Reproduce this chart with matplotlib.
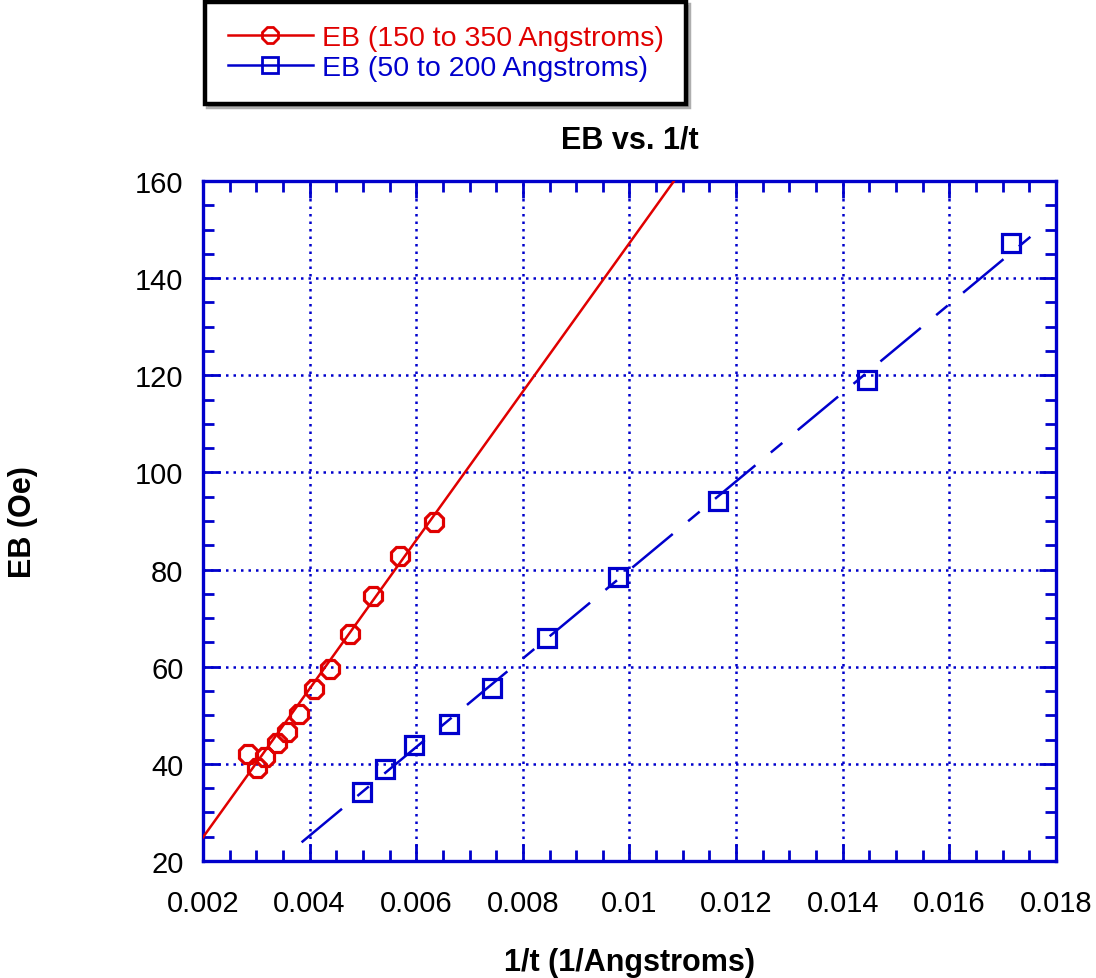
import numpy as np
import matplotlib.pyplot as plt
from matplotlib.ticker import MultipleLocator

plt.rcParams['font.family'] = ['Liberation Sans', 'DejaVu Sans']

# data
t_inv_thick = [0.00284, 0.00301, 0.00316, 0.00339, 0.00358, 0.00380,
               0.00408, 0.00438, 0.00476, 0.00519, 0.00570, 0.00633]
eb_thick = [42.0, 39.1, 41.4, 44.3, 46.6, 50.3, 55.4, 59.5, 66.7, 74.6, 82.8, 89.8]

t_inv_thin = [0.00498, 0.00541, 0.00595, 0.00662, 0.00742, 0.00845,
              0.00979, 0.01166, 0.01445, 0.01715]
eb_thin = [34.2, 39.0, 43.8, 48.2, 55.6, 65.9, 78.5, 94.1, 119.1, 147.2]

# linear fits (slope, intercept) and drawn x range
fit_thick = (15294.0, -5.71)
fit_thick_x = [0.002, 0.01084]
fit_thin = (9119.0, -11.26)
fit_thin_x = [0.00385, 0.01776]

red = '#e00000'
blue = '#0000cc'

fig = plt.figure(figsize=(10.96, 9.79), dpi=100)
ax = fig.add_axes([0.1852, 0.1195, 0.7783, 0.6946])

fx = np.array(fit_thick_x)
ax.plot(fx, fit_thick[0] * fx + fit_thick[1], color=red, lw=1.8, zorder=3)
gx = np.array(fit_thin_x)
ax.plot(gx, fit_thin[0] * gx + fit_thin[1], color=blue, lw=1.8,
        ls=(0, (21, 8, 6, 8)), zorder=3)

ax.plot(t_inv_thick, eb_thick, ls='none', marker='8', ms=14, mfc='none',
        mec=red, mew=2.3, zorder=4)
ax.plot(t_inv_thin, eb_thin, ls='none', marker='s', ms=12.5, mfc='none',
        mec=blue, mew=2.3, zorder=4)

# legend proxies
h1, = ax.plot([], [], color=red, lw=1.8, marker='8', ms=12, mfc='none',
              mec=red, mew=2.0, label='EB (150 to 350 Angstroms)')
h2, = ax.plot([], [], color=blue, lw=1.8, marker='s', ms=11, mfc='none',
              mec=blue, mew=2.0, label='EB (50 to 200 Angstroms)')

ax.set_xlim(0.002, 0.018)
ax.set_ylim(20, 160)
ax.xaxis.set_major_locator(MultipleLocator(0.002))
ax.xaxis.set_minor_locator(MultipleLocator(0.0005))
ax.yaxis.set_major_locator(MultipleLocator(20))
ax.yaxis.set_minor_locator(MultipleLocator(5))
ax.set_xticks(np.arange(0.002, 0.0181, 0.002))
ax.set_xticklabels(['0.002', '0.004', '0.006', '0.008', '0.01', '0.012',
                    '0.014', '0.016', '0.018'])

for s in ax.spines.values():
    s.set_color(blue)
    s.set_linewidth(2.4)
ax.tick_params(which='both', direction='in', top=True, right=True,
               color=blue, width=2.0, labelsize=21, labelcolor='black')
ax.tick_params(which='major', length=12, pad=14)
ax.tick_params(which='minor', length=8)
ax.tick_params(axis='x', pad=20)
ax.grid(True, which='major', color=blue, ls=(0, (1, 2)), lw=1.8)

ax.set_title('EB vs. 1/t', fontsize=22, fontweight='bold', pad=24)
ax.set_xlabel('1/t (1/Angstroms)', fontsize=22, fontweight='bold', labelpad=22)
ax.set_ylabel('EB (Oe)', fontsize=22, fontweight='bold', labelpad=70)

leg = fig.legend(handles=[h1, h2], loc='upper left',
                 bbox_to_anchor=(0.187, 0.997), borderaxespad=0, fontsize=20.5,
                 labelcolor='linecolor', handlelength=3.0, handletextpad=0.3,
                 labelspacing=0.15, borderpad=0.8, fancybox=False,
                 edgecolor='black', framealpha=1,
                 shadow={'color': '0.55', 'alpha': 0.7})
leg.get_frame().set_linewidth(3.2)

fig.savefig('out.png', dpi=100)
